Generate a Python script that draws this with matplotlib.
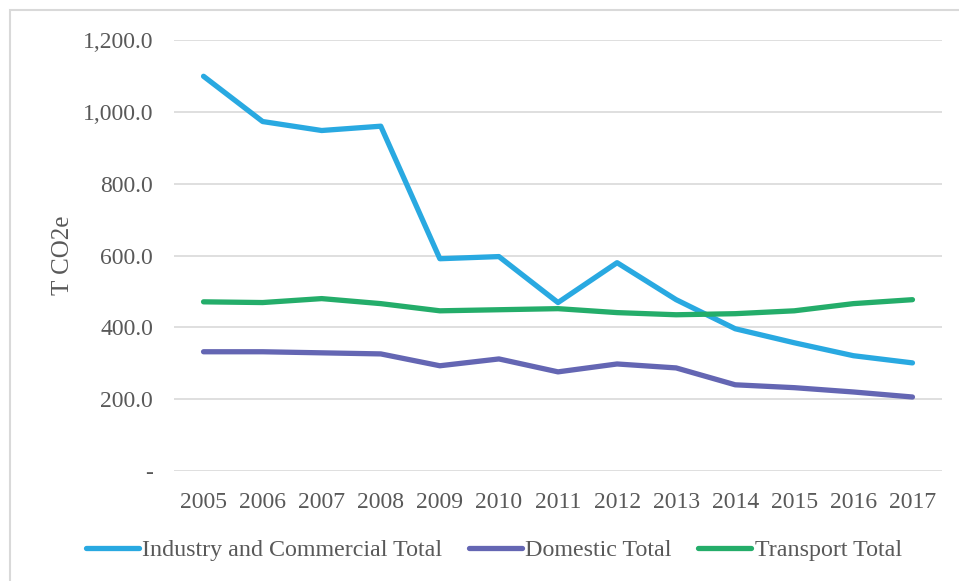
import matplotlib
matplotlib.use("Agg")
import matplotlib.pyplot as plt
from matplotlib.patches import Rectangle
from matplotlib.ticker import FuncFormatter

years = ['2005', '2006', '2007', '2008', '2009', '2010', '2011',
         '2012', '2013', '2014', '2015', '2016', '2017']
industry = [1099, 973, 948, 960, 591, 597, 469, 580, 477, 396, 357, 321, 301]
domestic = [332, 332, 329, 326, 293, 312, 276, 298, 287, 240, 232, 220, 206]
transport = [471, 469, 480, 466, 446, 449, 452, 441, 435, 438, 446, 466, 477]

plt.rcParams['font.family'] = ['Liberation Serif', 'DejaVu Serif']

fig = plt.figure(figsize=(9.59, 5.81), dpi=100)
fig.patches.append(Rectangle((10 / 959, -0.1), 1.2, 1 - 10 / 581 + 0.1, transform=fig.transFigure,
                             fill=False, edgecolor='#D9D9D9', linewidth=1.5))
ax = fig.add_axes([174 / 959, 1 - 471 / 581, (942 - 174) / 959, (471 - 40) / 581])

x = range(len(years))
style = dict(linewidth=3.8, solid_capstyle='round', solid_joinstyle='round')
ax.plot(x, industry, color='#29A9E1', label='Industry and Commercial Total', **style)
ax.plot(x, domestic, color='#6466B3', label='Domestic Total', **style)
ax.plot(x, transport, color='#24AD6A', label='Transport Total', **style)

ax.set_xlim(-0.5, len(years) - 0.5)
ax.set_ylim(0, 1200)
ax.set_yticks([0, 200, 400, 600, 800, 1000, 1200])
ax.yaxis.set_major_formatter(FuncFormatter(lambda v, p: '-' if v == 0 else '{:,.1f}'.format(v)))
ax.set_xticks(list(x))
ax.set_xticklabels(years)
ax.grid(axis='y', color='#D9D9D9', linewidth=1.2)
ax.set_axisbelow(True)
for s in ax.spines.values():
    s.set_visible(False)
ax.tick_params(axis='both', length=0, labelsize=17, colors='#595959')
ax.tick_params(axis='y', pad=15)
ax.tick_params(axis='x', pad=15)
ax.set_ylabel('T CO2e', fontsize=18, color='#595959', labelpad=6)

leg = fig.legend(loc='center', bbox_to_anchor=(494 / 959, 1 - 550 / 581), ncol=3, frameon=False,
                 fontsize=17.3, handlelength=2.2, handletextpad=0.15, columnspacing=1.1)
for t in leg.get_texts():
    t.set_color('#595959')

plt.savefig('out.png', dpi=100)
